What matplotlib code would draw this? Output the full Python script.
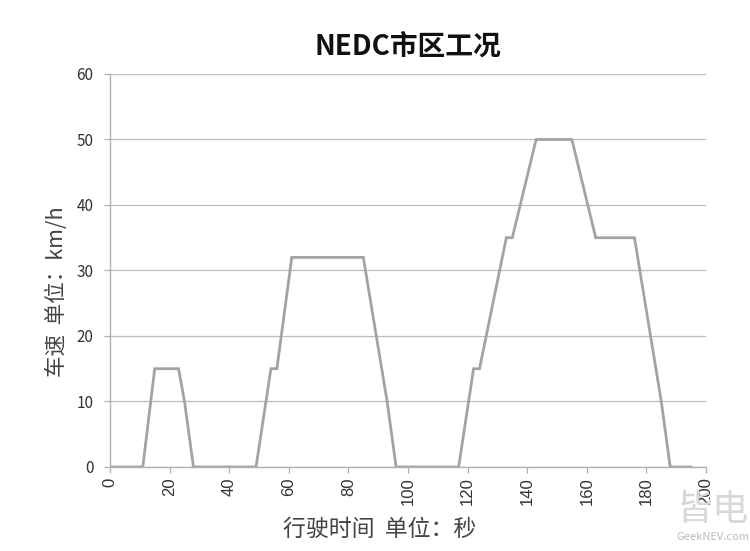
import matplotlib
matplotlib.use("Agg")
import matplotlib.pyplot as plt

plt.rcParams['font.family'] = ['Noto Sans CJK SC', 'DejaVu Sans']

time_s = [0, 11, 15, 23, 25, 28, 49, 54, 56, 61, 85, 93, 96, 117, 122, 124, 133, 135, 143, 155, 163, 176, 185, 188, 195]
speed_kmh = [0, 0, 15, 15, 10, 0, 0, 15, 15, 32, 32, 10, 0, 0, 15, 15, 35, 35, 50, 50, 35, 35, 10, 0, 0]
x_ticks = [0, 20, 40, 60, 80, 100, 120, 140, 160, 180, 200]
y_ticks = [0, 10, 20, 30, 40, 50, 60]

fig = plt.figure(figsize=(7.5, 5.51), dpi=100)
ax = fig.add_axes([0.1467, 0.1525, 0.7946, 0.7132])

ax.plot(time_s, speed_kmh, color='#a3a3a3', lw=2.0, solid_joinstyle='miter')
ax.set_xlim(0, 200)
ax.set_ylim(0, 60)
ax.set_xticks(x_ticks)
ax.set_yticks(y_ticks)
ax.set_xticklabels([str(v) for v in x_ticks], rotation=90, fontsize=12, color='#333333',
                   family=['Liberation Sans', 'DejaVu Sans'])
ax.set_yticklabels([str(v) for v in y_ticks], fontsize=11, color='#333333')
ax.yaxis.grid(True, color='#bdbdbd', lw=0.9)
ax.set_axisbelow(True)
for s in ['top', 'right']:
    ax.spines[s].set_visible(False)
for s in ['left', 'bottom']:
    ax.spines[s].set_color('#b0b0b0')
    ax.spines[s].set_linewidth(1.0)
ax.tick_params(axis='both', colors='#b0b0b0', length=4, width=0.9, labelcolor='#333333')
ax.tick_params(axis='y', pad=8)

ax.set_title('NEDC市区工况', fontsize=20, fontweight='bold', color='#111111', pad=14)
ax.set_xlabel('行驶时间  单位：秒', fontsize=16.5, color='#444444', labelpad=6)
ax.xaxis.set_label_coords(0.453, -0.13)
ax.set_ylabel('车速  单位：km/h', fontsize=15.5, color='#444444', labelpad=6)
ax.yaxis.set_label_coords(-0.07, 0.446)

fig.text(0.95, 0.075, '皆电', fontsize=26, color='#d8d8d8', ha='center', va='center')
fig.text(0.95, 0.025, 'GeekNEV.com', fontsize=8, color='#bbbbbb', ha='center', va='center')

fig.savefig('out.png', dpi=100)
